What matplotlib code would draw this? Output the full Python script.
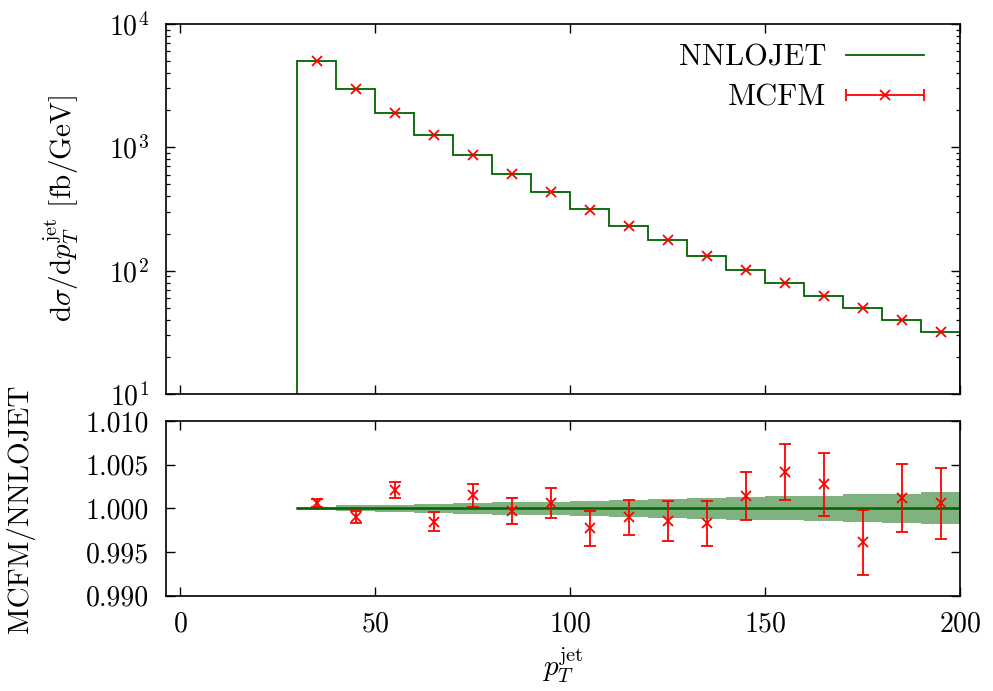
import numpy as np
import matplotlib
matplotlib.use('Agg')
import matplotlib.pyplot as plt
from matplotlib.ticker import FixedLocator, FormatStrFormatter
from matplotlib.legend_handler import HandlerErrorbar
from matplotlib.lines import Line2D

plt.rcParams['font.family'] = 'serif'
plt.rcParams['font.serif'] = ['cmr10']
plt.rcParams['mathtext.fontset'] = 'cm'
plt.rcParams['axes.formatter.use_mathtext'] = True

# data
bin_edges = [30, 40, 50, 60, 70, 80, 90, 100, 110, 120, 130, 140, 150, 160, 170, 180, 190, 200]
pt_centers = [35, 45, 55, 65, 75, 85, 95, 105, 115, 125, 135, 145, 155, 165, 175, 185, 195]
nnlojet = [5010, 2990, 1910, 1265, 866, 607, 434, 314, 231, 176, 132, 102, 79.3, 62.6, 49.7, 39.7, 32.0]
mcfm = [5013, 2987, 1914, 1263, 867, 607, 434, 313, 231, 176, 132, 102, 79.6, 62.8, 49.5, 39.7, 32.0]
ratio = [1.00057, 0.99897, 1.00211, 0.99847, 1.00149, 0.99966, 1.00062, 0.99771, 0.99897,
         0.99859, 0.99828, 1.00142, 1.00418, 1.00275, 0.99610, 1.00115, 1.00057]
ratio_err = [0.00045, 0.00069, 0.0009, 0.00107, 0.0013, 0.00147, 0.00176, 0.0020, 0.0020,
             0.0023, 0.0026, 0.0027, 0.0032, 0.0036, 0.0037, 0.0039, 0.0041]
band_hw = [0.0002, 0.00034, 0.00042, 0.00054, 0.00065, 0.00072, 0.00078, 0.00086, 0.00096,
           0.00105, 0.00117, 0.00128, 0.00136, 0.00147, 0.0016, 0.0017, 0.00183]

green = '#006400'
band_col = '#80b280'
red = '#ff0000'

fig = plt.figure(figsize=(9.93, 6.91), dpi=100)
ax1 = fig.add_axes([0.1668, 0.4298, 0.8, 0.5355])
ax2 = fig.add_axes([0.1668, 0.1379, 0.8, 0.2528])

# top panel
ax1.stairs(nnlojet, bin_edges, baseline=10, color=green, linewidth=1.3)
ax1.plot(pt_centers, mcfm, linestyle='none', marker='x', color=red, markersize=6.5, markeredgewidth=1.3)
proxy = ax1.errorbar([np.nan], [np.nan], xerr=[1], fmt='x', color=red, markersize=6.5,
                     markeredgewidth=1.3, elinewidth=1.3, capsize=4.5, capthick=1.3)
ax1.set_yscale('log')
ax1.set_ylim(10, 1e4)
ax1.set_xlim(-3.8, 200)
ax1.xaxis.set_major_locator(FixedLocator([0, 50, 100, 150, 200]))
ax1.tick_params(labelbottom=False)
ax1.set_ylabel(r'd$\sigma$/d$p_T^{\rm jet}$ [fb/GeV]', fontsize=21)
ax1.yaxis.set_label_coords(-0.107, 0.5)

nn_handle = Line2D([], [], color=green, linewidth=1.3)
ax1.legend([nn_handle, proxy], ['NNLOJET', 'MCFM'], loc='upper right',
           bbox_to_anchor=(0.955, 0.945), frameon=False, markerfirst=False,
           fontsize=22, handlelength=2.55, handletextpad=0.65, labelspacing=0.4,
           borderpad=0, borderaxespad=0,
           handler_map={proxy: HandlerErrorbar(xerr_size=1.275, numpoints=1)})

# ratio panel
lo = [1 - h for h in band_hw]
hi = [1 + h for h in band_hw]
ax2.stairs(hi, bin_edges, baseline=lo, fill=True, color=band_col, linewidth=0)
ax2.plot([bin_edges[0], bin_edges[-1]], [1, 1], color=green, linewidth=1.8)
ax2.errorbar(pt_centers, ratio, yerr=ratio_err, fmt='x', color=red, markersize=6.5,
             markeredgewidth=1.3, elinewidth=1.3, capsize=4.5, capthick=1.3)
ax2.set_xlim(-3.8, 200)
ax2.set_ylim(0.990, 1.010)
ax2.xaxis.set_major_locator(FixedLocator([0, 50, 100, 150, 200]))
ax2.yaxis.set_major_locator(FixedLocator([0.990, 0.995, 1.000, 1.005, 1.010]))
ax2.yaxis.set_major_formatter(FormatStrFormatter('%.3f'))
ax2.set_ylabel('MCFM/NNLOJET', fontsize=21)
ax2.yaxis.set_label_coords(-0.165, 0.5)
ax2.set_xlabel(r'$p_T^{\rm jet}$', fontsize=21, labelpad=6)

for ax in (ax1, ax2):
    ax.tick_params(which='both', direction='in', top=True, right=True, labelsize=20)
    ax.tick_params(which='major', length=6.5, width=1.0, pad=12)
    ax.tick_params(which='minor', length=3.2, width=0.9)
    ax.tick_params(axis='x', which='major', pad=11)
    for s in ax.spines.values():
        s.set_linewidth(1.2)
ax2.minorticks_off()

fig.savefig('out.png', dpi=100)
